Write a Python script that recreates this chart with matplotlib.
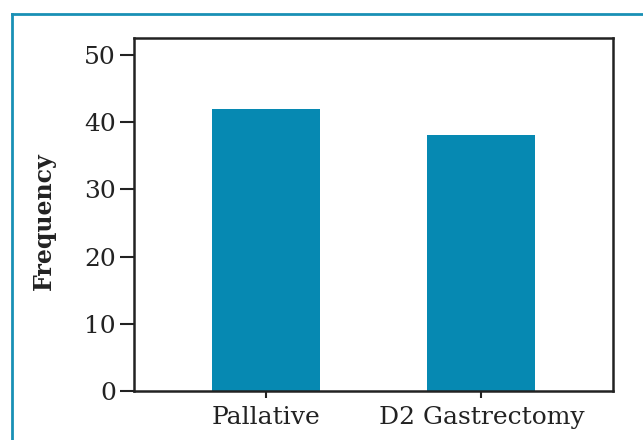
import matplotlib
matplotlib.use("Agg")
import matplotlib.pyplot as plt
from matplotlib.lines import Line2D

categories = ["Pallative", "D2 Gastrectomy"]
frequency = [42, 38]
yticks = [0, 10, 20, 30, 40, 50]

plt.rcParams['font.family'] = ['DejaVu Serif']

fig = plt.figure(figsize=(6.43, 4.40), dpi=100)
ax = fig.add_axes([134 / 643, 1 - 391 / 440, (613 - 134) / 643, (391 - 38) / 440])

ax.bar(range(len(categories)), frequency, width=0.5, color="#0689b2")
ax.set_xlim(-0.61, 1.61)
ax.set_ylim(0, 52.5)
ax.set_yticks(yticks)
ax.set_xticks(range(len(categories)))
ax.set_xticklabels(categories)
ax.tick_params(axis="both", labelsize=18, colors="#222222", width=1.5)
ax.tick_params(axis="y", length=10, pad=3)
ax.tick_params(axis="x", length=5, pad=6)
for s in ax.spines.values():
    s.set_linewidth(1.8)
    s.set_color("#222222")
ax.set_ylabel("Frequency", fontsize=17, fontweight="bold", color="#222222")
ax.yaxis.set_label_coords(-(134 - 56) / (613 - 134), 0.48)

# teal frame at top and left
fig.add_artist(Line2D([12 / 643, 12 / 643], [0, 1 - 14 / 440], transform=fig.transFigure,
                      color="#1990b5", linewidth=2))
fig.add_artist(Line2D([12 / 643, 1], [1 - 14 / 440, 1 - 14 / 440], transform=fig.transFigure,
                      color="#1990b5", linewidth=2))

fig.savefig("out.png", dpi=100)
